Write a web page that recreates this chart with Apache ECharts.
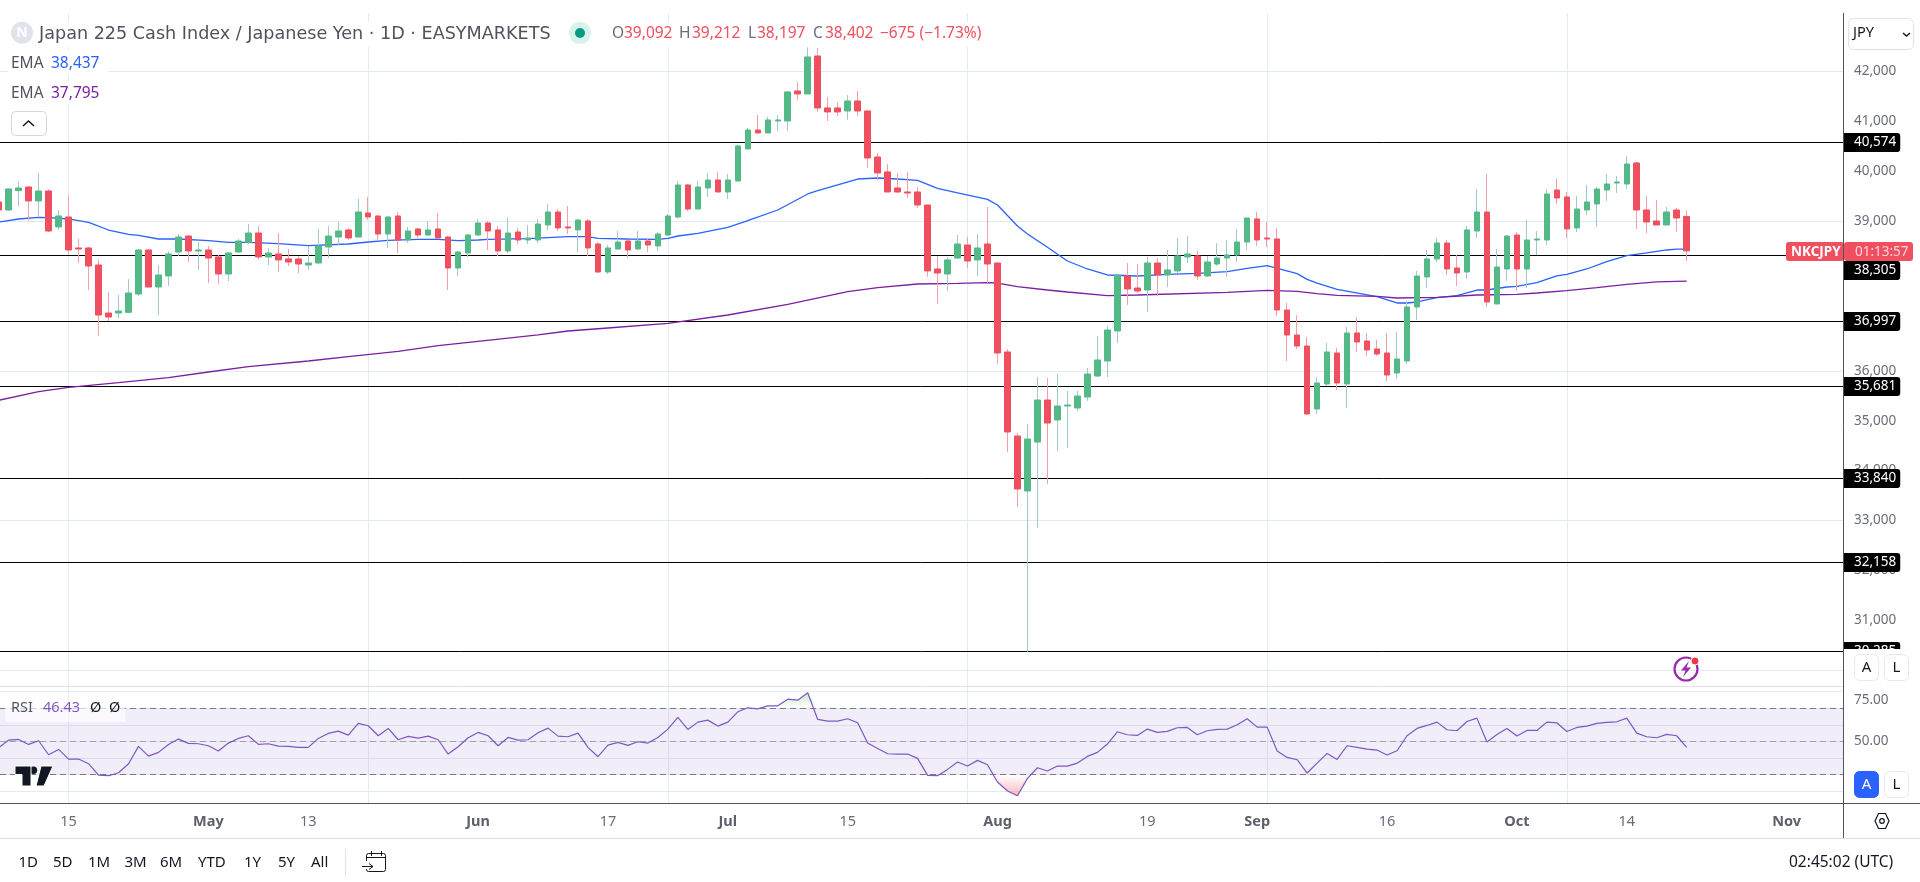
<!DOCTYPE html>
<html><head><meta charset="utf-8">
<style>html,body{margin:0;padding:0;background:#fff}#c{width:1920px;height:882px}</style>
<script src="https://cdn.jsdelivr.net/npm/echarts@6/dist/echarts.min.js"></script>
</head><body><div id="c"></div>
<script>
const firstBar = -7;
const opens = [39382,39221,39609,39682,39402,39602,38881,
39081,38460,38460,38119,37157,37157,37171,37538,38420,37678,
37899,38380,38700,38400,38420,38280,37939,38380,38573,38760,
38280,38340,38240,38240,38119,38159,38480,38680,38821,38680,
39161,39101,38740,39101,38620,38841,38720,38841,38680,38059,
38360,38720,38961,38821,38400,38780,38620,38620,38921,39181,
38881,38821,39001,38540,37979,38440,38600,38440,38600,38500,
38720,39081,39722,39241,39662,39822,39582,39802,40444,40824,
40764,41005,41005,41606,41546,42307,41265,41265,41205,41405,
41205,40283,39983,39662,39582,39582,39321,38039,37939,38259,
38520,38220,38540,38159,36376,34693,33591,34572,35414,35014,
35294,35254,35474,35895,36196,36797,37899,37658,37618,38159,
37919,38000,38280,38300,37899,38139,38259,38320,38580,39041,
38660,38640,37217,36717,36496,35234,35735,36356,35735,36757,
36596,36436,36356,35955,36196,37278,37879,38240,38560,38059,
37979,38800,39181,37338,38039,38720,38039,38620,38620,39622,
39482,38861,39221,39341,39622,39762,39742,40163,39221,39001,
38921,39221,39092];
const closes = [39221,39642,39662,39402,39602,38800,39101,
38420,38440,38099,37117,37077,37197,37558,38420,37678,37919,
38340,38680,38400,38420,38259,37939,38360,38600,38760,38280,
38360,38220,38179,38139,38159,38500,38700,38800,38660,39181,
39081,38740,39081,38620,38800,38720,38821,38660,38059,38380,
38720,38961,38800,38400,38760,38620,38660,38941,39181,38861,
38861,39021,38460,37979,38460,38580,38420,38600,38520,38740,
39101,39722,39241,39682,39822,39582,39822,40504,40824,40764,
41025,41025,41586,41546,42287,41265,41185,41185,41405,41205,
40263,39963,39582,39582,39562,39321,38000,37959,38220,38540,
38199,38460,38139,36356,34773,33631,34633,35414,34953,35294,
35314,35494,35935,36216,36817,37919,37638,37598,38159,37919,
38019,38300,38340,37899,38179,38259,38320,38580,39061,38620,
38640,37217,36717,36496,35134,35755,36376,35755,36757,36576,
36416,36336,35915,36236,37278,37899,38240,38560,38039,37959,
38821,39181,37378,38079,38700,38039,38620,38640,39542,39462,
38841,39241,39382,39642,39742,39782,40143,39221,38981,38921,
39181,39061,38402];
const highs = [39422,39655,39796,39695,39963,39635,39221,
39502,38640,38480,38233,37578,37518,37839,38433,38440,38119,
38393,38740,38720,38580,38500,38320,38373,38640,38941,38901,
38460,38760,38440,38300,38500,38841,38901,38981,38861,39442,
39482,39121,39094,39181,38881,38854,39001,39161,38700,38400,
38740,39041,39001,38901,39081,38861,38921,39041,39341,39241,
39301,39034,39041,38580,38520,38800,38620,38800,38660,38780,
39141,39802,39742,39802,39963,39983,39943,40524,40864,41125,
41085,41125,41606,41786,42481,42467,41485,41385,41525,41606,
41225,40363,40143,39963,39983,39682,39321,38300,38280,38720,
38680,38740,39281,38179,36436,34753,34933,35875,35855,35935,
35594,35594,36055,36697,36897,37919,38159,38139,38286,38259,
38420,38660,38700,38400,38300,38560,38620,38841,39061,39181,
38981,38861,37358,37117,36677,35875,36556,36456,36877,37077,
36757,36616,36757,36777,37398,38000,38420,38660,38620,38320,
38901,39642,39943,38440,38720,38780,39021,38800,39642,39842,
39582,39502,39722,39682,39943,39902,40303,40183,39502,39422,
39281,39261,39212];
const lows = [39188,39201,39288,39007,39074,38780,38821,
38333,38159,37618,36697,36997,37057,37164,37498,37678,37117,
37698,38300,38179,38019,37758,37738,37799,38360,38540,38220,
38119,37979,38099,37959,38019,38153,38259,38513,38620,38673,
39021,38620,38460,38360,38560,38660,38700,38647,37618,37899,
38280,38700,38420,38300,38360,38540,38540,38560,38821,38800,
38740,38380,38300,37959,37939,38433,38259,38420,38380,38400,
38700,39048,39201,39228,39482,39582,39442,39796,40444,40764,
40764,40804,40804,41425,41546,41185,41005,41105,41025,41105,
40063,39822,39582,39562,39462,39261,37879,37338,37598,38240,
38059,37899,37758,36136,34372,33270,30371,32849,33731,34392,
34452,35194,35394,35875,35875,36556,37318,37558,37177,37498,
37678,37959,38159,37819,37879,38099,37879,38179,38420,38500,
38480,37097,36196,36436,35114,35134,35695,35615,35254,36376,
36296,36296,35795,35835,36136,37017,37658,38179,37919,37698,
37839,38660,37278,37338,37799,37598,37658,38320,38520,39341,
38660,38780,39121,38881,39402,39562,39642,38841,38760,38921,
38921,38780,38197];
const rsiValues = [46.2,50.8,51.2,48.2,50.4,42,45.2,
39.4,39.4,36.6,29.8,29.4,31.2,36.6,47,41.2,43.4,
48.2,51.4,48.8,48.6,47.4,44.2,49,51.8,53.4,48.2,
48.6,47.2,47,46.4,46.4,51.8,54.8,56.2,53.8,60.8,
59.4,53.4,57.8,51,53,52,53.2,51,42.4,46.8,
52.2,55.4,53.4,47.4,52.4,50.8,51,55.2,58,53.2,
52.8,55,46.4,40.8,47.8,49.4,47.6,49.8,49,52.4,
57.4,64.4,57.2,61.6,62.8,59.2,61.6,67.8,70.2,69.6,
71.4,71.4,75.4,74.8,79.2,63.2,62.2,62.2,63.6,61.2,
49,45.8,42.6,42.4,42.4,39.8,29.6,29.4,33.2,37.6,
35.2,38.6,36,25.6,20.2,17.4,27.8,34.2,32.2,35.2,
35.2,37,41,43.4,48.4,55.8,54,53.6,57.4,55.4,
56,58.2,58.4,54,56.4,57.2,57.4,60,63.6,58.6,
58.6,44.2,40.4,39,31,37,42.8,39.2,47.4,46.4,
45.4,44.8,41.8,44.4,53.4,57.8,59.6,61.6,57,56.4,
62,64,49.6,54.2,57.8,53.2,56.6,56.6,61.6,61.2,
56,58.4,59.2,60.8,61.4,61.8,64,55,52.8,52.2,
54.2,53.4,46.43];
const emaFastBars = [-7,-5,-3,-2,0,2,4,6,7,9,11,14,16,18,21,24,28,30,32,35,37,39,41,42,46,50,52,53,56,59,60,61,63,66,68,71,74,75,77,79,81,83,85,87,89,92,93,95,96,98,100,102,104,107,110,113,116,118,120,123,124,125,127,131,133,134,135,137,139,141,142,144,145,147,149,150,152,154,156,158,160,161,162];
const emaFastValues = [38980,39041,39074,39068,39041,38974,38820,38734,38714,38640,38640,38607,38573,38573,38547,38507,38540,38580,38613,38633,38633,38607,38620,38633,38647,38687,38687,38653,38640,38633,38653,38700,38754,38874,39008,39221,39542,39609,39722,39842,39862,39842,39816,39655,39562,39435,39321,38901,38740,38473,38199,38039,37919,37899,37932,37952,37986,38052,38106,37945,37832,37758,37632,37485,37358,37358,37378,37465,37505,37618,37618,37678,37691,37765,37899,37932,38039,38186,38306,38360,38420,38437,38437];
const emaSlowBars = [-7,-3,0,5,10,14,18,24,28,33,37,41,47,50,54,60,66,72,78,81,85,89,92,93,95,98,100,104,107,116,120,123,125,127,131,133,137,141,145,147,150,153,156,159,162];
const emaSlowValues = [35408,35581,35668,35761,35862,35975,36082,36196,36282,36389,36503,36590,36717,36797,36857,36950,37117,37331,37585,37665,37738,37752,37765,37758,37685,37618,37578,37505,37518,37572,37612,37592,37545,37511,37491,37458,37471,37518,37531,37558,37605,37665,37732,37779,37795];
const levelPrices = [40574,38309,36987,35685,33842,32158,30373];
const levelLabels = ['40,574','38,305','36,997','35,681','33,840','32,158','30,285'];
const dateTickBars = [0,14,24,41,54,66,78,93,108,119,132,145,156,172];
const dateTickLabels = ['15','May','13','Jun','17','Jul','15','Aug','19','Sep','16','Oct','14','Nov'];
const monthNames = ['May','Jun','Jul','Aug','Sep','Oct','Nov'];
const priceGridLines = [30000,31000,32000,33000,34000,35000,36000,37000,38000,39000,40000,41000,42000,43000];
const priceTickLabels = [31000,32000,33000,34000,35000,36000,37000,38000,39000,40000,41000,42000];
const rsiTickLabels = [50,75];
const rsiGridLines = [25,75];
const rangeButtons = ['1D','5D','1M','3M','6M','YTD','1Y','5Y','All'];

const FONT = '"Trebuchet MS", "Noto Sans", sans-serif';
const TITLE_FONT = '"DejaVu Sans", sans-serif';
const GRID = '#e2ebf2', RED = '#ef4f5e', GREEN = '#53b987', RED_W = '#f59fa9', GREEN_W = '#a5c9c8';
const bars = opens.map((_, k) => firstBar + k);

const wickData = bars.map((b, k) => [b, opens[k], closes[k], lows[k], highs[k]]);
const bodyData = bars.map((b, k) => [b, opens[k], closes[k], Math.min(opens[k], closes[k]), Math.max(opens[k], closes[k])]);
const rsiData = bars.map((b, k) => [b, rsiValues[k]]);

const g = [];
const rect = (x, y, w, h, fill, stroke, r, z) => g.push({type:'rect', z:z||50, silent:true, shape:{x, y, width:w, height:h, r:r||0}, style:{fill:fill||'none', stroke:stroke||'none', lineWidth:stroke?1:0}});
const text = (x, y, t, color, size, opts) => g.push({type:'text', z:(opts&&opts.z)||60, silent:true, x, y, style:Object.assign({text:t, fill:color, fontSize:size, fontFamily:FONT, textVerticalAlign:'middle', textAlign:'left'}, opts||{})});
const line = (x1, y1, x2, y2, color, z, w) => g.push({type:'line', z:z||40, silent:true, shape:{x1, y1, x2, y2}, style:{stroke:color, lineWidth:w||1}});
const poly = (pts, fill, stroke, z, w, open) => g.push({type:open?'polyline':'polygon', z:z||60, silent:true, shape:{points:pts}, style:{fill:open?'none':(fill||'none'), stroke:stroke||'none', lineWidth:w||0}});
const circ = (cx, cy, r, fill, stroke, z, w) => g.push({type:'circle', z:z||60, silent:true, shape:{cx, cy, r}, style:{fill:fill||'none', stroke:stroke||'none', lineWidth:w||0}});

// panes chrome
line(0, 686.5, 1843, 686.5, '#e0e3eb', 3);
line(0, 803.5, 1920, 803.5, '#50535e', 45);
line(0, 838.5, 1920, 838.5, '#e0e3eb', 45);
rect(1844, 649, 76, 37, '#fff', null, 0, 100);
line(1843.5, 13, 1843.5, 838, '#50535e', 101);

// header
rect(8, 22, 977, 25, '#fff');
rect(8, 51, 100, 24, '#fff');
rect(8, 81, 100, 24, '#fff');
circ(22, 32.7, 11, '#e0e3eb');
text(22, 33, 'N', '#fff', 14, {textAlign:'center', fontWeight:'bold'});
text(39, 34, 'Japan 225 Cash Index / Japanese Yen · 1D · EASYMARKETS', '#50535e', 17.6, {fontFamily:TITLE_FONT});
circ(580, 33, 11, '#d9f1ec');
circ(580, 33, 5, '#089981');
[[612,'O'],[679,'H'],[748,'L'],[813,'C']].forEach(a => text(a[0], 34, a[1], '#6a6d78', 15.5));
[[624,'39,092'],[692,'39,212'],[757,'38,197'],[825,'38,402'],[880,'−675 (−1.73%)']].forEach(a => text(a[0], 34, a[1], RED, 15.5));
text(11, 63.5, 'EMA', '#50535e', 15.5);
text(51, 63.5, '38,437', '#2962ff', 15.5);
text(11, 93.5, 'EMA', '#50535e', 15.5);
text(51, 93.5, '37,795', '#7b1fa2', 15.5);
rect(11.5, 111.5, 35, 24, '#fff', '#d6d8e0', 4);
poly([[23,126],[28.5,121],[34,126]], null, '#131722', 60, 1.5, true);

// price pane chrome
rect(1848.5, 18.5, 65, 31, '#fff', '#e0e3eb', 5);
text(1853, 33, 'JPY', '#131722', 14.5);
poly([[1903,33],[1906.5,36],[1910,33]], null, '#131722', 60, 1.5, true);
rect(1786, 242, 58, 19, RED, null, 3, 70);
text(1791, 251.8, 'NKCJPY', '#fff', 13.5, {fontWeight:'bold', z:71});
rect(1844, 242, 69, 19, RED, null, 3, 70);
text(1855, 251.8, '01:13:57', '#ffd6da', 13.5, {z:71});
const abtn = (y, on) => {
  rect(1854.5, y, 24, 26, on?'#2962ff':'#fff', on?'#2962ff':'#e8e9ee', 5, 102);
  text(1866.5, y+13.5, 'A', on?'#fff':'#131722', 15, {textAlign:'center', z:103});
  rect(1884.5, y, 24, 26, '#fff', '#e8e9ee', 5, 102);
  text(1896.5, y+13.5, 'L', '#131722', 15, {textAlign:'center', z:103});
};
abtn(654.5, false);
abtn(771.5, true);

// flash icon
circ(1686, 669, 11.5, 'none', '#9c27b0', 60, 2.2);
poly([[1689,661],[1681,670.5],[1685.5,670.5],[1683,677],[1691,667.5],[1686.5,667.5]], '#9c27b0');
circ(1695, 661, 4, '#f23645', '#fff', 61, 1);

// RSI legend and logo
rect(5, 699, 120, 23, 'rgba(255,255,255,0.65)');
text(11, 708, 'RSI', '#50535e', 14.5);
text(43, 708, '46.43', '#7e57c2', 14.5);
text(90, 708, 'Ø', '#131722', 14.5);
text(109, 708, 'Ø', '#131722', 14.5);
poly([[15,766],[31,766],[31,786],[22,786],[22,774.5],[15,774.5]], '#131722', '#fff', 65, 1);
circ(33.5, 770.3, 3.7, '#131722');
poly([[41,766],[53,766],[44,786],[36,786]], '#131722', '#fff', 65, 1);

// bottom toolbar
const rangeX = [18.5,53,88,124.5,160,198,244,278,311];
rangeButtons.forEach((t, k) => text(rangeX[k], 862.5, t, '#131722', 15));
line(345.5, 849, 345.5, 877, '#e0e3eb');
rect(366.5, 853.5, 19, 18, 'none', '#131722', 2);
rect(360, 861, 8, 8, '#fff', null, 0, 51);
line(366.5, 857.5, 385.5, 857.5, '#131722', 52);
line(371.5, 851, 371.5, 856, '#131722', 52);
line(381.5, 851, 381.5, 856, '#131722', 52);
poly([[362,866.5],[373,866.5]], null, '#131722', 60, 1, true);
poly([[369,863.5],[373,866.5],[369,869.5]], null, '#131722', 60, 1, true);
text(1789, 863, '02:45:02 (UTC)', '#131722', 15.5);
poly([[1875,821],[1878.5,813.5],[1885.5,813.5],[1889,821],[1885.5,828.5],[1878.5,828.5]], null, '#131722', 60, 1.2);
circ(1882, 821, 2.3, 'none', '#131722', 60, 1.2);

const xMin = -6.868, xMax = 177.65;
const baseX = {type:'value', min:xMin, max:xMax, axisLine:{show:false}, axisTick:{show:false},
  splitLine:{show:true, showMinLine:false, showMaxLine:false, customValues:dateTickBars, lineStyle:{color:GRID, width:1}}, axisPointer:{show:false}};

const option = {
  animation:false,
  backgroundColor:'#fff',
  tooltip:{show:false},
  textStyle:{fontFamily:FONT},
  grid:[
    {left:0, top:13, width:1843, height:673},
    {left:0, top:686, width:1843, height:118}
  ],
  xAxis:[
    Object.assign({}, baseX, {gridIndex:0, axisLabel:{show:false}}),
    Object.assign({}, baseX, {gridIndex:1, axisLabel:{show:true, customValues:dateTickBars, margin:10, color:'#6a6d78', fontSize:14.5, fontFamily:FONT,
      formatter:v => { const t = dateTickLabels[dateTickBars.indexOf(v)] || ''; return monthNames.includes(t) ? '{m|'+t+'}' : t; },
      rich:{m:{fontWeight:'bold', color:'#5d606b', fontSize:14.5, fontFamily:FONT}}}})
  ],
  yAxis:[
    {type:'value', gridIndex:0, position:'right', min:29684, max:43168, axisLine:{show:false}, axisTick:{show:false},
     axisLabel:{show:true, customValues:priceTickLabels, margin:11, color:'#6a6d78', fontSize:13.5, fontFamily:FONT, formatter:v => v.toLocaleString('en-US')},
     splitLine:{show:true, showMinLine:false, showMaxLine:false, customValues:priceGridLines, lineStyle:{color:GRID, width:1}}},
    {type:'value', gridIndex:1, position:'right', min:12.4, max:83.3, axisLine:{show:false}, axisTick:{show:false},
     axisLabel:{show:true, customValues:rsiTickLabels, margin:11, color:'#6a6d78', fontSize:13.5, fontFamily:FONT, formatter:v => v.toFixed(2)},
     splitLine:{show:true, showMinLine:false, showMaxLine:false, customValues:rsiGridLines, lineStyle:{color:GRID, width:1}}}
  ],
  graphic:{elements:g},
  series:[
    {name:'Levels', type:'line', xAxisIndex:0, yAxisIndex:0, z:1, data:[], silent:true,
     markLine:{z:1, silent:true, symbol:'none', animation:false, lineStyle:{color:'#000', width:1, type:'solid'},
       data:levelPrices.map((p, k) => ({yAxis:p, label:{show:true, position:'end', distance:0, formatter:levelLabels[k], color:'#fff', fontSize:13.5, fontFamily:FONT,
         backgroundColor:'#000', padding:[3,4,2,11], borderRadius:[0,3,3,0], offset:k===1?[0,15]:[0,0]}}))}},
    {name:'EMA 50', type:'line', xAxisIndex:0, yAxisIndex:0, z:2, symbol:'none', showSymbol:false, smooth:false,
     lineStyle:{color:'#2962ff', width:1.3}, data:emaFastBars.map((b,k)=>[b, emaFastValues[k]])},
    {name:'EMA 200', type:'line', xAxisIndex:0, yAxisIndex:0, z:2, symbol:'none', showSymbol:false, smooth:false,
     lineStyle:{color:'#7b1fa2', width:1.3}, data:emaSlowBars.map((b,k)=>[b, emaSlowValues[k]])},
    {name:'Wicks', type:'candlestick', xAxisIndex:0, yAxisIndex:0, z:3, barWidth:1, encode:{x:0, y:[1,2,3,4]}, silent:true,
     itemStyle:{color:GREEN_W, color0:RED_W, borderColor:GREEN_W, borderColor0:RED_W, borderWidth:1}, data:wickData},
    {name:'Japan 225', type:'candlestick', xAxisIndex:0, yAxisIndex:0, z:4, barWidth:6, encode:{x:0, y:[1,2,3,4]}, silent:true,
     itemStyle:{color:GREEN, color0:RED, borderColor:GREEN, borderColor0:RED, borderWidth:1}, data:bodyData},
    {name:'RSI', type:'line', xAxisIndex:1, yAxisIndex:1, z:5, symbol:'none', showSymbol:false,
     lineStyle:{color:'#7e57c2', width:1.2}, data:rsiData,
     markArea:{silent:true, z:1, itemStyle:{color:'rgba(126,87,194,0.1)'}, data:[[{yAxis:70},{yAxis:30}]]},
     markLine:{silent:true, z:2, symbol:'none', animation:false, label:{show:false},
       data:[{yAxis:70, lineStyle:{color:'#787b86', type:[6,4], width:1}},{yAxis:50, lineStyle:{color:'rgba(120,123,134,0.6)', type:[6,4], width:1}},{yAxis:30, lineStyle:{color:'#787b86', type:[6,4], width:1}}]}},
    {name:'RSI overbought', type:'line', xAxisIndex:1, yAxisIndex:1, z:4, symbol:'none', showSymbol:false, silent:true, lineStyle:{width:0},
     areaStyle:{origin:70, opacity:1, color:new echarts.graphic.LinearGradient(0,0,0,1,[{offset:0,color:'rgba(76,175,80,0.3)'},{offset:1,color:'rgba(76,175,80,0)'}])},
     data:rsiData.map(d=>[d[0], Math.max(d[1],70)])},
    {name:'RSI oversold', type:'line', xAxisIndex:1, yAxisIndex:1, z:4, symbol:'none', showSymbol:false, silent:true, lineStyle:{width:0},
     areaStyle:{origin:30, opacity:1, color:new echarts.graphic.LinearGradient(0,0,0,1,[{offset:0,color:'rgba(242,54,69,0)'},{offset:1,color:'rgba(242,54,69,0.35)'}])},
     data:rsiData.map(d=>[d[0], Math.min(d[1],30)])}
  ]
};
const chart = echarts.init(document.getElementById('c'), null, {renderer:'canvas', width:1920, height:882});
chart.setOption(option);
</script></body></html>
